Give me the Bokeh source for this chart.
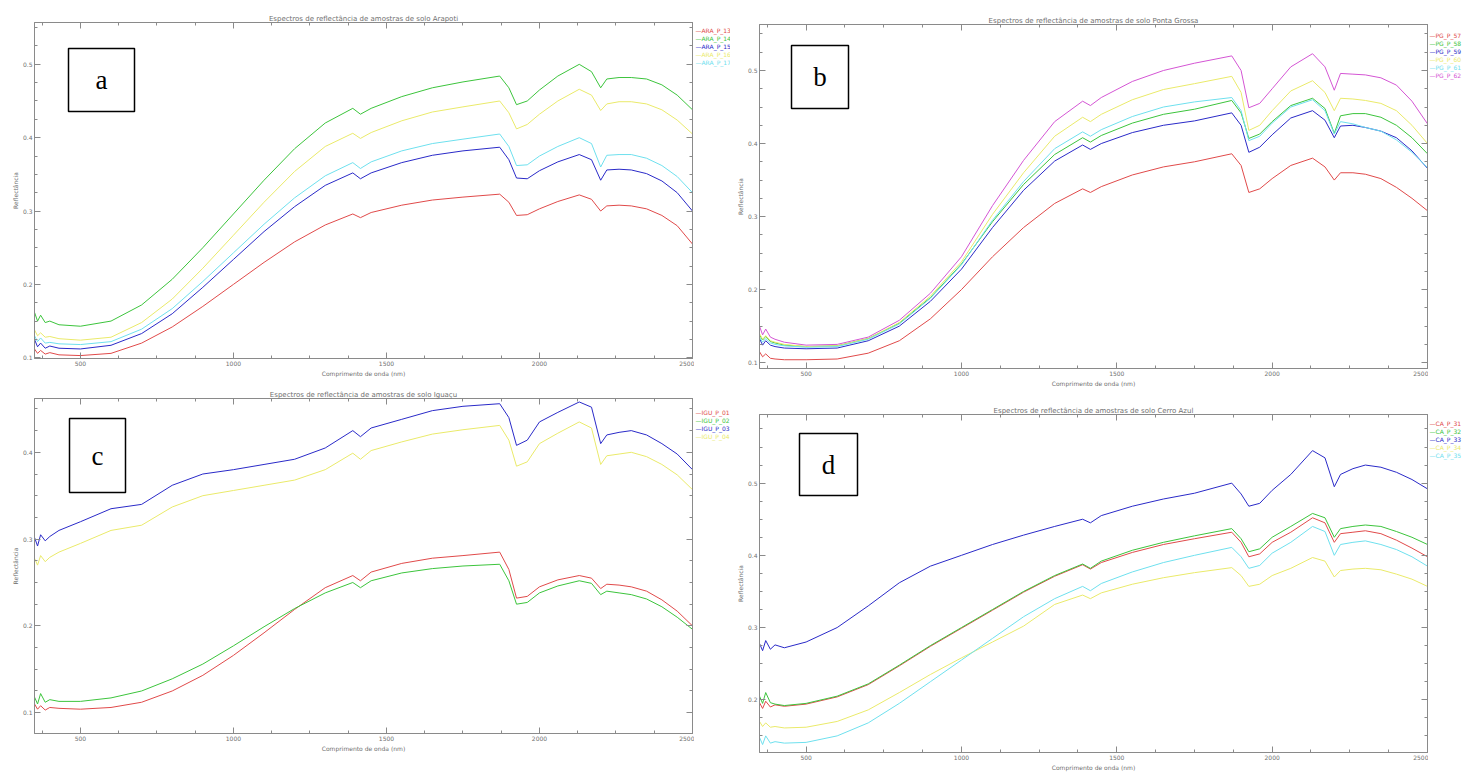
import numpy as np
from bokeh.plotting import figure
from bokeh.models import Range1d, LinearAxis, Label, BoxAnnotation, FixedTicker
from bokeh.layouts import column, row
from bokeh.embed import file_html
from bokeh.resources import INLINE
from bokeh.core.properties import value

# ---------------- data ----------------
WL = [350, 360, 370, 385, 400, 430, 500, 600, 700, 800, 900, 1000, 1100, 1200, 1300, 1390, 1415, 1450,
      1550, 1650, 1750, 1870, 1900, 1925, 1960, 2000, 2060, 2130, 2170, 2200, 2220, 2260, 2300, 2350, 2400, 2450, 2500]

# panel a
a_red = [0.112, 0.106, 0.110, 0.105, 0.107, 0.104, 0.103, 0.106, 0.120, 0.142, 0.170, 0.200, 0.230, 0.258, 0.281, 0.296, 0.291, 0.298,
         0.308, 0.315, 0.319, 0.323, 0.312, 0.294, 0.295, 0.303, 0.313, 0.322, 0.316, 0.300, 0.307, 0.308, 0.307, 0.303, 0.294, 0.280, 0.255]
a_green = [0.162, 0.150, 0.158, 0.148, 0.150, 0.145, 0.143, 0.150, 0.172, 0.207, 0.250, 0.296, 0.342, 0.385, 0.420, 0.440, 0.432, 0.440,
           0.456, 0.468, 0.476, 0.484, 0.468, 0.445, 0.450, 0.465, 0.484, 0.500, 0.490, 0.468, 0.480, 0.482, 0.482, 0.480, 0.472, 0.458, 0.438]
a_blue = [0.125, 0.115, 0.120, 0.113, 0.116, 0.113, 0.112, 0.117, 0.133, 0.160, 0.196, 0.234, 0.272, 0.306, 0.335, 0.352, 0.344, 0.352,
          0.366, 0.376, 0.382, 0.387, 0.370, 0.345, 0.344, 0.355, 0.367, 0.377, 0.370, 0.342, 0.356, 0.357, 0.356, 0.351, 0.341, 0.325, 0.300]
a_yellow = [0.138, 0.130, 0.134, 0.128, 0.129, 0.126, 0.124, 0.128, 0.148, 0.180, 0.222, 0.267, 0.312, 0.354, 0.388, 0.406, 0.399, 0.407,
            0.423, 0.435, 0.442, 0.450, 0.434, 0.412, 0.418, 0.432, 0.450, 0.466, 0.458, 0.437, 0.446, 0.449, 0.449, 0.446, 0.438, 0.424, 0.405]
a_cyan = [0.130, 0.122, 0.127, 0.120, 0.121, 0.119, 0.118, 0.122, 0.139, 0.167, 0.204, 0.243, 0.282, 0.318, 0.348, 0.366, 0.358, 0.367,
          0.382, 0.392, 0.398, 0.405, 0.388, 0.362, 0.363, 0.375, 0.388, 0.400, 0.392, 0.360, 0.376, 0.377, 0.377, 0.372, 0.362, 0.347, 0.325]

# panel b
b_red = [0.115, 0.108, 0.112, 0.106, 0.105, 0.104, 0.104, 0.105, 0.113, 0.130, 0.160, 0.200, 0.245, 0.285, 0.318, 0.338, 0.333, 0.341,
         0.357, 0.368, 0.375, 0.386, 0.370, 0.333, 0.338, 0.352, 0.370, 0.380, 0.368, 0.350, 0.360, 0.360, 0.358, 0.352, 0.340, 0.325, 0.308]
b_green = [0.138, 0.131, 0.136, 0.129, 0.127, 0.124, 0.122, 0.123, 0.133, 0.154, 0.189, 0.235, 0.293, 0.344, 0.385, 0.408, 0.402, 0.411,
           0.428, 0.440, 0.447, 0.459, 0.442, 0.407, 0.413, 0.430, 0.452, 0.462, 0.448, 0.414, 0.438, 0.441, 0.441, 0.436, 0.425, 0.408, 0.386]
b_blue = [0.133, 0.124, 0.130, 0.124, 0.122, 0.120, 0.119, 0.120, 0.130, 0.150, 0.184, 0.228, 0.285, 0.336, 0.376, 0.398, 0.392, 0.400,
          0.415, 0.425, 0.431, 0.442, 0.425, 0.388, 0.395, 0.412, 0.435, 0.445, 0.432, 0.408, 0.424, 0.425, 0.422, 0.417, 0.408, 0.390, 0.366]
b_yellow = [0.140, 0.132, 0.137, 0.130, 0.128, 0.125, 0.122, 0.123, 0.133, 0.155, 0.191, 0.238, 0.303, 0.360, 0.410, 0.436, 0.430, 0.440,
            0.460, 0.474, 0.482, 0.492, 0.470, 0.418, 0.425, 0.445, 0.472, 0.486, 0.470, 0.445, 0.462, 0.461, 0.459, 0.455, 0.445, 0.425, 0.400]
b_cyan = [0.135, 0.128, 0.133, 0.127, 0.125, 0.123, 0.121, 0.122, 0.132, 0.153, 0.188, 0.234, 0.295, 0.348, 0.393, 0.416, 0.410, 0.419,
          0.437, 0.450, 0.457, 0.463, 0.445, 0.404, 0.410, 0.428, 0.450, 0.460, 0.445, 0.413, 0.430, 0.427, 0.422, 0.417, 0.405, 0.388, 0.367]
b_magenta = [0.150, 0.138, 0.146, 0.135, 0.132, 0.128, 0.124, 0.125, 0.135, 0.158, 0.195, 0.245, 0.315, 0.377, 0.430, 0.458, 0.452, 0.463,
             0.485, 0.500, 0.510, 0.520, 0.500, 0.449, 0.455, 0.475, 0.505, 0.523, 0.505, 0.473, 0.496, 0.495, 0.494, 0.490, 0.480, 0.458, 0.427]

# panel c
c_red = [0.110, 0.104, 0.108, 0.103, 0.106, 0.105, 0.104, 0.106, 0.112, 0.125, 0.143, 0.166, 0.192, 0.219, 0.244, 0.258, 0.252, 0.262,
         0.272, 0.278, 0.281, 0.285, 0.265, 0.232, 0.234, 0.245, 0.253, 0.258, 0.255, 0.243, 0.248, 0.247, 0.245, 0.240, 0.230, 0.217, 0.200]
c_green = [0.118, 0.110, 0.122, 0.112, 0.115, 0.113, 0.113, 0.117, 0.125, 0.139, 0.156, 0.177, 0.199, 0.220, 0.238, 0.250, 0.244, 0.252,
           0.261, 0.266, 0.269, 0.271, 0.252, 0.225, 0.227, 0.238, 0.246, 0.252, 0.249, 0.236, 0.240, 0.238, 0.236, 0.231, 0.222, 0.210, 0.196]
c_blue = [0.302, 0.292, 0.305, 0.298, 0.303, 0.310, 0.320, 0.335, 0.340, 0.362, 0.375, 0.380, 0.386, 0.392, 0.405, 0.425, 0.418, 0.428,
          0.438, 0.448, 0.453, 0.456, 0.440, 0.408, 0.414, 0.435, 0.446, 0.458, 0.452, 0.410, 0.420, 0.423, 0.425, 0.420, 0.410, 0.398, 0.380]
c_yellow = [0.278, 0.270, 0.281, 0.274, 0.279, 0.285, 0.295, 0.310, 0.316, 0.337, 0.350, 0.356, 0.362, 0.368, 0.380, 0.399, 0.392, 0.402,
            0.412, 0.421, 0.426, 0.431, 0.414, 0.384, 0.389, 0.410, 0.422, 0.435, 0.428, 0.386, 0.396, 0.398, 0.400, 0.395, 0.386, 0.374, 0.357]

# panel d
d_red = [0.196, 0.188, 0.198, 0.190, 0.193, 0.191, 0.194, 0.204, 0.221, 0.247, 0.274, 0.299, 0.324, 0.349, 0.371, 0.387, 0.381, 0.390,
         0.404, 0.415, 0.423, 0.432, 0.418, 0.398, 0.402, 0.418, 0.432, 0.452, 0.445, 0.418, 0.430, 0.432, 0.434, 0.430, 0.421, 0.410, 0.398]
d_green = [0.205, 0.195, 0.210, 0.196, 0.194, 0.192, 0.195, 0.205, 0.222, 0.248, 0.275, 0.300, 0.325, 0.350, 0.372, 0.388, 0.382, 0.392,
           0.407, 0.418, 0.427, 0.437, 0.423, 0.405, 0.409, 0.425, 0.440, 0.458, 0.452, 0.425, 0.437, 0.440, 0.442, 0.440, 0.433, 0.425, 0.415]
d_blue = [0.278, 0.268, 0.282, 0.270, 0.276, 0.272, 0.280, 0.300, 0.330, 0.362, 0.385, 0.400, 0.415, 0.428, 0.440, 0.450, 0.445, 0.455,
          0.468, 0.478, 0.486, 0.500, 0.485, 0.468, 0.472, 0.490, 0.512, 0.545, 0.535, 0.495, 0.512, 0.520, 0.525, 0.522, 0.515, 0.505, 0.492]
d_yellow = [0.170, 0.163, 0.168, 0.162, 0.163, 0.161, 0.162, 0.170, 0.186, 0.210, 0.235, 0.258, 0.280, 0.302, 0.332, 0.345, 0.340, 0.348,
            0.360, 0.369, 0.376, 0.383, 0.372, 0.357, 0.360, 0.372, 0.382, 0.397, 0.392, 0.370, 0.379, 0.381, 0.382, 0.380, 0.374, 0.367, 0.357]
d_cyan = [0.148, 0.138, 0.150, 0.140, 0.142, 0.140, 0.141, 0.150, 0.168, 0.195, 0.225, 0.255, 0.285, 0.315, 0.340, 0.357, 0.351, 0.361,
          0.377, 0.390, 0.400, 0.411, 0.398, 0.382, 0.386, 0.403, 0.418, 0.440, 0.433, 0.400, 0.415, 0.418, 0.420, 0.415, 0.408, 0.398, 0.385]

TITLES = ["Espectros de reflectância de amostras de solo Arapoti",
          "Espectros de reflectância de amostras de solo Ponta Grossa",
          "Espectros de reflectância de amostras de solo Iguaçu",
          "Espectros de reflectância de amostras de solo Cerro Azul"]
X_LABEL = "Comprimento de onda (nm)"
Y_LABEL = "Reflectância"
X_TICKS = [500, 1000, 1500, 2000, 2500]
Y_TICKS = [0.1, 0.2, 0.3, 0.4, 0.5]

NAMES_A = ["ARA_P_13", "ARA_P_14", "ARA_P_15", "ARA_P_16", "ARA_P_17"]
NAMES_B = ["PG_P_57", "PG_P_58", "PG_P_59", "PG_P_60", "PG_P_61", "PG_P_62"]
NAMES_C = ["IGU_P_01", "IGU_P_02", "IGU_P_03", "IGU_P_04"]
NAMES_D = ["CA_P_31", "CA_P_32", "CA_P_33", "CA_P_34", "CA_P_35"]

COL = {"red": "#e04a4a", "green": "#3cc43c", "blue": "#2a2ac8", "yellow": "#eaea6a",
       "cyan": "#6ee0ee", "magenta": "#d455d4"}
GRAY = "#8a8a8a"
TXT = "#707070"


def panel(fig_w, fig_h, bl, br, bt, bb, yr, title, series, letter, box_px):
    fw = fig_w - bl - br
    fh = fig_h - bt - bb
    p = figure(width=fig_w, height=fig_h, x_range=Range1d(350, 2500), y_range=Range1d(*yr),
               output_backend="svg", toolbar_location=None,
               min_border_left=bl, min_border_right=br, min_border_top=bt, min_border_bottom=bb)
    p.title.text = title
    p.title.align = "center"
    p.title.text_font_size = "7px"
    p.title.text_font = "DejaVu Sans"
    p.title.text_font_style = "normal"
    p.title.text_color = TXT
    p.title.standoff = 0
    p.outline_line_color = GRAY
    p.grid.visible = False

    xt = FixedTicker(ticks=X_TICKS, minor_ticks=list(np.arange(375, 2501, 125)))
    ymin_t = np.arange(np.ceil(yr[0] / 0.025) * 0.025, yr[1], 0.025)
    yt = FixedTicker(ticks=Y_TICKS, minor_ticks=list(ymin_t))

    for ax in (p.xaxis[0], p.yaxis[0]):
        ax.axis_line_color = GRAY
        ax.major_tick_line_color = GRAY
        ax.minor_tick_line_color = GRAY
        ax.major_tick_in = 6
        ax.major_tick_out = 0
        ax.minor_tick_in = 3
        ax.minor_tick_out = 0
        ax.major_label_text_font_size = "6px"
        ax.major_label_text_font = "DejaVu Sans"
        ax.major_label_text_color = TXT
        ax.major_label_standoff = 2
        ax.axis_label_text_font_size = "6px"
        ax.axis_label_text_font = "DejaVu Sans"
        ax.axis_label_text_font_style = "normal"
        ax.axis_label_text_color = TXT
        ax.axis_label_standoff = 1
    p.xaxis[0].ticker = xt
    p.yaxis[0].ticker = yt
    p.xaxis[0].axis_label = X_LABEL
    p.yaxis[0].axis_label = Y_LABEL

    for loc, tk, ticks in (("above", xt, X_TICKS), ("right", yt, Y_TICKS)):
        ax = LinearAxis(ticker=tk, major_label_overrides={t: "" for t in ticks},
                        major_label_text_font_size="1px", major_label_standoff=0,
                        axis_line_color=GRAY, major_tick_line_color=GRAY, minor_tick_line_color=GRAY,
                        major_tick_in=6, major_tick_out=0, minor_tick_in=3, minor_tick_out=0)
        p.add_layout(ax, loc)

    for (cname, vals) in series:
        p.line(WL, vals, line_color=COL[cname], line_width=1)

    def dx(px):
        return 350 + px / fw * 2150

    def dy(py):
        return yr[1] - py / fh * (yr[1] - yr[0])

    x0, y0, x1, y1 = box_px
    p.add_layout(BoxAnnotation(left=dx(x0), right=dx(x1), top=dy(y0), bottom=dy(y1),
                               fill_color="white", fill_alpha=1.0, line_color="black",
                               line_width=1.5, line_alpha=1.0))
    p.add_layout(Label(x=dx((x0 + x1) / 2), y=dy((y0 + y1) / 2), text=letter,
                       text_font="Liberation Serif", text_font_size="27px",
                       text_color="black", text_align="center", text_baseline="middle"))
    return p


def legend_fig(w, h, bt, bb, series, names, y0):
    fh = h - bt - bb
    lf = figure(width=w, height=h, x_range=Range1d(0, w), y_range=Range1d(fh, 0),
                output_backend="svg", toolbar_location=None,
                x_axis_location=None, y_axis_location=None,
                min_border_left=0, min_border_right=0, min_border_top=bt, min_border_bottom=bb)
    lf.outline_line_color = None
    lf.grid.visible = False
    n = len(names)
    lf.text(x=[1] * n, y=[y0 + 8 * i for i in range(n)], text=["\u2014" + nm for nm in names],
            text_color=[COL[c] for c, _ in series], text_font=value("DejaVu Sans"),
            text_font_size="6px", text_baseline="middle", text_align="left")
    return lf


SA = [("red", a_red), ("green", a_green), ("blue", a_blue), ("yellow", a_yellow), ("cyan", a_cyan)]
SB = [("red", b_red), ("green", b_green), ("blue", b_blue), ("yellow", b_yellow), ("cyan", b_cyan),
      ("magenta", b_magenta)]
SC = [("red", c_red), ("green", c_green), ("blue", c_blue), ("yellow", c_yellow)]
SD = [("red", d_red), ("green", d_green), ("blue", d_blue), ("yellow", d_yellow), ("cyan", d_cyan)]

# left column: a frame 22..358, c frame 398..733
pa = panel(694, 384, 34, 2, 22, 26, (0.099, 0.557), TITLES[0], SA, "a", (34, 26, 100, 89))
la = legend_fig(36, 384, 22, 26, SA, NAMES_A, 8)
pc = panel(694, 373, 34, 2, 14, 24, (0.076, 0.462), TITLES[2], SC, "c", (35, 20, 91, 94))
lc = legend_fig(36, 373, 14, 24, SC, NAMES_C, 14)
# right column: b frame 24..368, d frame 414..752
pb = panel(698, 394, 29, 1, 24, 26, (0.092, 0.563), TITLES[1], SB, "b", (32, 21, 89, 84))
lb = legend_fig(40, 394, 24, 26, SB, NAMES_B, 11)
pd_ = panel(698, 379, 29, 1, 20, 21, (0.127, 0.595), TITLES[3], SD, "d", (40, 19, 98, 81))
ld = legend_fig(40, 379, 20, 21, SD, NAMES_D, 9)

layout = row(column(row(pa, la), row(pc, lc)), column(row(pb, lb), row(pd_, ld)))
open("out.html", "w").write(file_html(layout, INLINE))
